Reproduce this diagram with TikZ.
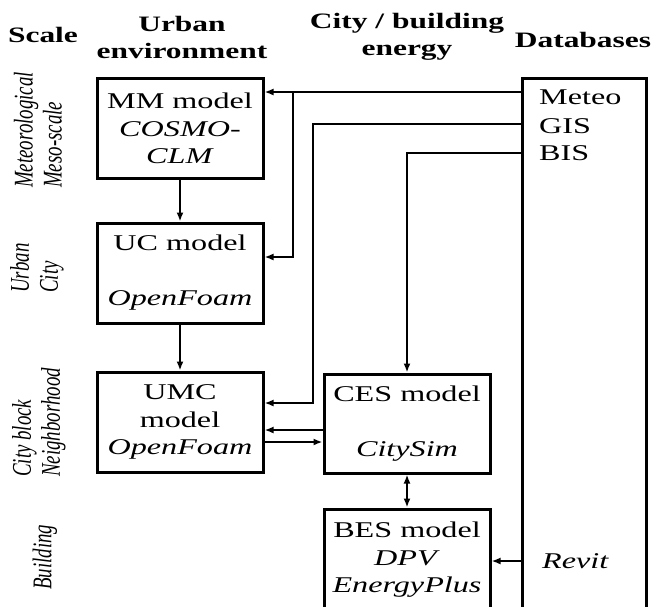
\documentclass[tikz,border=0pt]{standalone}
\usepackage{fontspec}
\setmainfont{Liberation Serif}[FakeStretch=1.43]
\newfontfamily\sidefont{Liberation Serif}[FakeStretch=0.70]
\usetikzlibrary{arrows.meta,calc}
\tikzstyle{model}=[draw, line width=3pt, minimum width=166pt, minimum height=100pt, align=center, inner sep=0pt, font=\fontsize{22.5}{27.5}\selectfont]
\tikzstyle{head}=[align=center, inner sep=0pt, font=\fontsize{22}{27}\selectfont\bfseries]
\tikzstyle{scalelbl}=[rotate=90, anchor=west, align=left, inner sep=0pt, font=\sidefont\itshape\fontsize{27}{29}\selectfont]
\tikzstyle{dbitem}=[anchor=west, inner sep=0pt, font=\fontsize{22.5}{27.5}\selectfont]
\tikzstyle{flow}=[line width=2.7pt, -{Latex[length=9pt,width=7pt]}]
\tikzstyle{flowboth}=[line width=2.7pt, {Latex[length=9pt,width=7pt]}-{Latex[length=9pt,width=7pt]}]
\newcommand{\modelcol}{180}
\newcommand{\energycol}{407}

\begin{document}
\begin{tikzpicture}[x=1pt,y=-1pt]
\useasboundingbox (0,0) rectangle (655,606);
\node[head] (hscale) at (43,35) {Scale};
\node[head] (hurban) at (182,37) {Urban\\environment};
\node[head] (hcity) at (\energycol,37) {City / building\\energy};
\node[head] (hdb) at (583,40) {Databases};
\node[scalelbl] (smeso) at (38,188) {Meteorological\\Meso-scale};
\node[scalelbl] (scity) at (37,293) {Urban\\City};
\node[scalelbl] (sblock) at (39,477) {City block\\Neighborhood};
\node[scalelbl] (sbuild) at (45,590) {Building};
\node[model] (mm) at (\modelcol,128.5) {MM model\\\textit{COSMO-}\\\textit{CLM}};
\node[model] (uc) at (\modelcol,273) {UC model\\[27.5pt]\textit{OpenFoam}};
\node[model] (umc) at (\modelcol,422) {UMC\\model\\\textit{OpenFoam}};
\node[model, minimum height=99pt] (ces) at (\energycol,423.5) {CES model\\[27.5pt]\textit{CitySim}};
\node[model, minimum height=102pt] (bes) at (\energycol,560) {BES model\\\textit{DPV}\\\textit{EnergyPlus}};
\node[draw, line width=3pt, minimum width=124pt, minimum height=540pt] (db) at (584,348) {};
\node[dbitem] (meteo) at (539,97.5) {Meteo};
\node[dbitem] (gis) at (539,126) {GIS};
\node[dbitem] (bis) at (539,153) {BIS};
\node[dbitem] (revit) at (542,561) {\textit{Revit}};
\coordinate (jmet) at (293,92);
\coordinate (juc) at (293,257);
\coordinate (jgis) at (313,124);
\coordinate (jumc) at (313,403);
\coordinate (jbis) at (\energycol,153);
\coordinate (jback) at (0,430);
\coordinate (jfwd) at (0,442);
\draw[flow] (db.west |- jmet) -- (mm.east |- jmet);
\draw[flow] (jmet) -- (juc) -- (uc.east |- juc);
\draw[flow] (db.west |- jgis) -- (jgis) -- (jumc) -- (umc.east |- jumc);
\draw[flow] (db.west |- jbis) -- (jbis) -- (ces.north);
\draw[flow] (mm) -- (uc);
\draw[flow] (uc) -- (umc);
\draw[flow] (ces.west |- jback) -- (umc.east |- jback);
\draw[flow] (umc.east |- jfwd) -- (ces.west |- jfwd);
\draw[flowboth] (ces) -- (bes);
\draw[flow] (db.west |- revit) -- (bes.east |- revit);
\end{tikzpicture}
\end{document}
